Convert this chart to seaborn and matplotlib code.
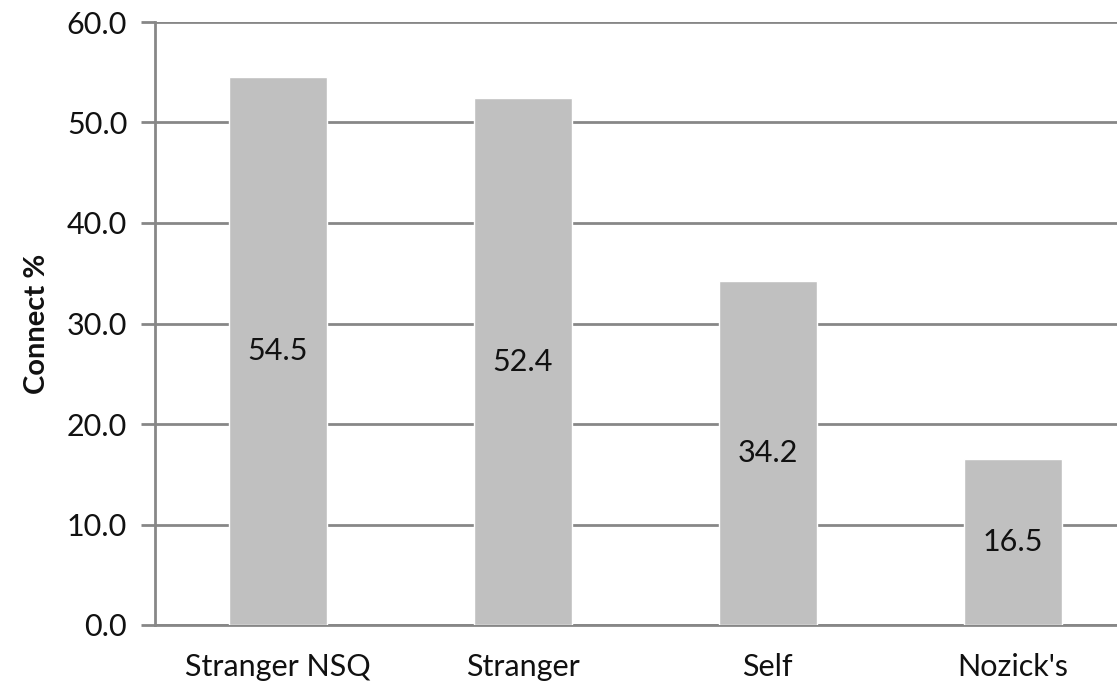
import pandas as pd
import matplotlib.pyplot as plt
import seaborn as sns

# Chart data
categories = ["Stranger NSQ", "Stranger", "Self", "Nozick's"]
connect_pct = [54.5, 52.4, 34.2, 16.5]
y_ticks = [0, 10, 20, 30, 40, 50, 60]

df = pd.DataFrame({"Condition": categories, "Connect": connect_pct})

sns.set_style("white")
plt.rcParams["font.family"] = ["Lato", "DejaVu Sans"]

fig = plt.figure(figsize=(11.17, 6.84), dpi=100)
ax = fig.add_axes([155 / 1117, 1 - 625 / 684, 980 / 1117, 603 / 684])

grid_col = "#878787"
sns.barplot(data=df, x="Condition", y="Connect", color="#c0c0c0",
            width=0.4, saturation=1, ax=ax, zorder=3)

# value labels in the middle of each bar
for i, v in enumerate(connect_pct):
    ax.text(i, v / 2, f"{v:.1f}", ha="center", va="center",
            fontsize=22, color="#111111", zorder=4)

ax.set_ylim(0, 60)
ax.set_xlim(-0.5, len(categories) - 0.5)
ax.set_yticks(y_ticks)
ax.set_yticklabels([f"{t:.1f}" for t in y_ticks])
ax.yaxis.grid(True, color=grid_col, linewidth=2, zorder=0)
ax.set_axisbelow(True)

# category boundary ticks on x axis
ax.set_xticks([i - 0.5 for i in range(len(categories) + 1)], minor=True)
ax.tick_params(axis="x", which="major", length=0, pad=20, labelsize=22,
               labelcolor="#111111")
ax.tick_params(axis="x", which="minor", length=10, width=2, color=grid_col,
               direction="out")
ax.tick_params(axis="y", length=10, width=2, color=grid_col, pad=10,
               labelsize=22, labelcolor="#111111", left=True)

for side in ["top", "right"]:
    ax.spines[side].set_visible(False)
for side in ["left", "bottom"]:
    ax.spines[side].set_color(grid_col)
    ax.spines[side].set_linewidth(2)

ax.set_xlabel("")
ax.set_ylabel("Connect %", fontsize=21, fontweight="bold", labelpad=12,
              color="#111111")

fig.savefig("out.png", dpi=100)
